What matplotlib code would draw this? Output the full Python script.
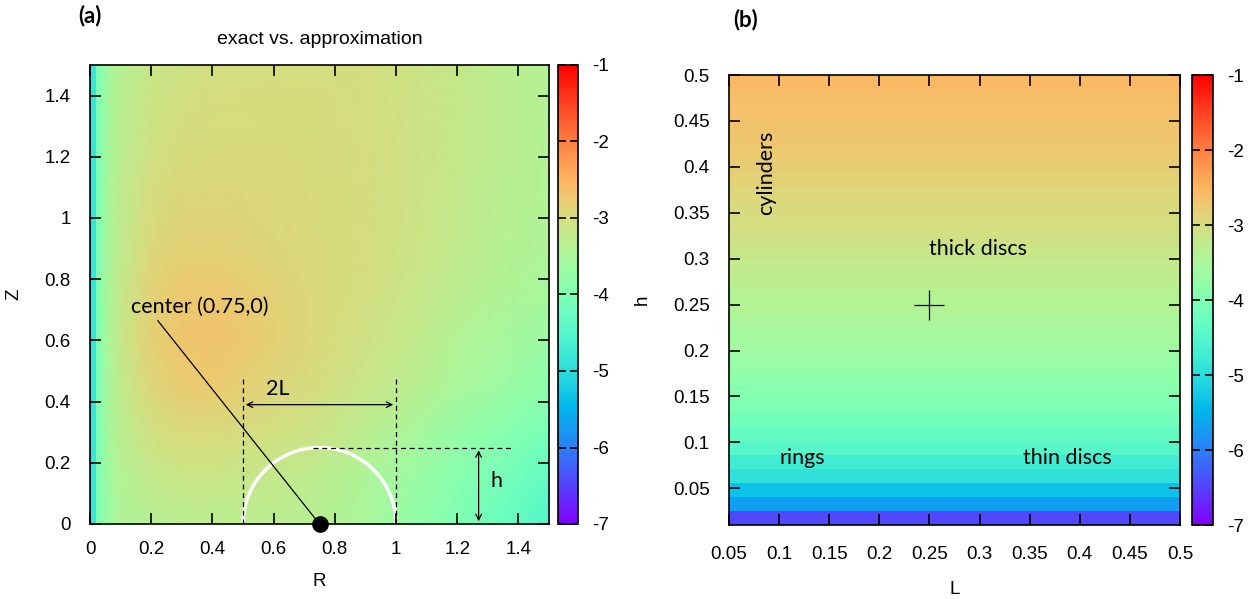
import numpy as np
import matplotlib
matplotlib.use('Agg')
import matplotlib.pyplot as plt
from matplotlib.ticker import FormatStrFormatter
from matplotlib.patches import Arc

plt.rcParams['font.family'] = ['Liberation Sans', 'DejaVu Sans']
plt.rcParams['axes.unicode_minus'] = False

# ---- panel (a): log10 deviation, exact vs. approximation, on an (R, Z) grid ----
# thin columns next to the axis R=0 (drawn flat)
strip_R_edges = [0, 0.02, 0.04]
strip_vals = [-4.85, -4.0]
# smooth part of the map
R_nodes = [0.04, 0.07, 0.1, 0.2, 0.3, 0.42, 0.6, 0.75, 0.9, 1.05, 1.2, 1.35, 1.5]
Z_nodes = [0, 0.15, 0.3, 0.45, 0.6, 0.75, 0.9, 1.2, 1.5]
dev_a = [
    [-3.85, -3.6, -3.45, -3.35, -3.3, -3.3, -3.3, -3.35, -3.5, -3.75, -4.0, -4.25, -4.55],
    [-3.8, -3.55, -3.4, -3.22, -3.15, -3.15, -3.2, -3.3, -3.45, -3.65, -3.9, -4.1, -4.35],
    [-3.75, -3.5, -3.3, -3.05, -2.95, -2.95, -3.05, -3.12, -3.3, -3.5, -3.72, -3.9, -4.1],
    [-3.7, -3.45, -3.25, -2.9, -2.78, -2.75, -2.9, -3.0, -3.15, -3.32, -3.5, -3.65, -3.85],
    [-3.7, -3.4, -3.2, -2.82, -2.7, -2.68, -2.82, -2.95, -3.07, -3.22, -3.4, -3.52, -3.68],
    [-3.7, -3.4, -3.2, -2.85, -2.72, -2.72, -2.84, -2.95, -3.03, -3.15, -3.3, -3.42, -3.55],
    [-3.7, -3.42, -3.25, -2.93, -2.83, -2.83, -2.9, -2.95, -3.0, -3.1, -3.25, -3.35, -3.45],
    [-3.72, -3.45, -3.3, -3.05, -2.97, -2.95, -2.95, -2.98, -3.0, -3.08, -3.2, -3.3, -3.38],
    [-3.75, -3.5, -3.35, -3.15, -3.08, -3.03, -3.0, -3.0, -3.03, -3.1, -3.2, -3.3, -3.38],
]

# ---- panel (b): deviation vs (L, h), bands in h ----
L_range = [0.05, 0.5]
h_range = [0.01, 0.5]
dev_b = [-6.45, -5.7, -5.35, -4.95, -4.75, -4.48, -4.33, -4.18, -4.03, -3.91,
         -3.82, -3.7, -3.62, -3.55, -3.48, -3.41, -3.35, -3.28, -3.21, -3.14,
         -3.07, -3.01, -2.95, -2.9, -2.85, -2.8, -2.75, -2.71, -2.67, -2.63,
         -2.6, -2.57]

cb_ticks = [-7, -6, -5, -4, -3, -2, -1]
vmin, vmax = -7, -1
cmap = 'rainbow'
anno_font = ['Lato', 'DejaVu Sans']
anno_size = 15.5

W, H = 1260, 599
fig = plt.figure(figsize=(W / 100, H / 100), dpi=100)
ax1 = fig.add_axes([90 / W, 1 - 524 / H, 459 / W, 459 / H])
cax1 = fig.add_axes([558 / W, 1 - 524 / H, 20 / W, 459 / H])
ax2 = fig.add_axes([729 / W, 1 - 525 / H, 451 / W, 450 / H])
cax2 = fig.add_axes([1192 / W, 1 - 525 / H, 21 / W, 450 / H])

# panel (a)
m1 = ax1.pcolormesh(R_nodes, Z_nodes, np.array(dev_a), shading='gouraud',
                    cmap=cmap, vmin=vmin, vmax=vmax)
ax1.pcolormesh(strip_R_edges, [0, 1.5], np.array([strip_vals]), shading='flat',
               cmap=cmap, vmin=vmin, vmax=vmax)
ax1.set_xlim(0, 1.5)
ax1.set_ylim(0, 1.5)
ax1.set_xticks(np.arange(0, 1.41, 0.2))
ax1.set_yticks(np.arange(0, 1.41, 0.2))
ax1.xaxis.set_major_formatter(FormatStrFormatter('%g'))
ax1.yaxis.set_major_formatter(FormatStrFormatter('%g'))
ax1.set_xlabel('R', fontsize=13.5, labelpad=11)
ax1.set_ylabel('Z', fontsize=13.5, labelpad=16)
ax1.set_title('exact vs. approximation', fontsize=14, pad=15)

ax1.add_patch(Arc((0.75, 0), 0.5, 0.5, theta1=0, theta2=180, color='white', lw=2.5))
ax1.plot([0.5, 0.5], [0, 0.48], 'k--', lw=0.9, dashes=(4, 3))
ax1.plot([1.0, 1.0], [0, 0.48], 'k--', lw=0.9, dashes=(4, 3))
ax1.plot([0.73, 1.375], [0.25, 0.25], 'k--', lw=0.9, dashes=(4, 3))
ax1.annotate('', xy=(0.5, 0.39), xytext=(1.0, 0.39),
             arrowprops=dict(arrowstyle='<->', lw=0.9, color='black'))
ax1.annotate('', xy=(1.27, 0.0), xytext=(1.27, 0.25),
             arrowprops=dict(arrowstyle='<->', lw=0.9, color='black'))
ax1.text(0.575, 0.44, '2L', fontsize=anno_size, family=anno_font, va='center')
ax1.text(1.31, 0.14, 'h', fontsize=anno_size, family=anno_font, va='center')
ax1.plot([0.222, 0.75], [0.664, 0.0], color='black', lw=0.9)
ax1.text(0.135, 0.71, 'center (0.75,0)', fontsize=anno_size, family=anno_font, va='center')
ax1.plot([0.75], [0.0], 'o', color='black', ms=11, clip_on=False, zorder=5)

# panel (b)
m2 = ax2.pcolormesh(L_range, np.linspace(h_range[0], h_range[1], len(dev_b) + 1),
                    np.array(dev_b)[:, None], shading='flat',
                    cmap=cmap, vmin=vmin, vmax=vmax)
ax2.set_xlim(0.05, 0.5)
ax2.set_ylim(0.01, 0.5)
ax2.set_xticks(np.arange(0.05, 0.501, 0.05))
ax2.set_yticks(np.arange(0.05, 0.501, 0.05))
ax2.xaxis.set_major_formatter(FormatStrFormatter('%g'))
ax2.yaxis.set_major_formatter(FormatStrFormatter('%g'))
ax2.set_xlabel('L', fontsize=13.5, labelpad=13)
ax2.set_ylabel('h', fontsize=13.5, labelpad=16)
ax2.plot([0.25], [0.25], marker='+', color='black', ms=22, mew=0.9)
ax2.text(0.087, 0.393, 'cylinders', rotation=90, fontsize=anno_size, family=anno_font,
         ha='center', va='center')
ax2.text(0.25, 0.31, 'thick discs', fontsize=anno_size, family=anno_font, va='center')
ax2.text(0.1, 0.083, 'rings', fontsize=anno_size, family=anno_font, va='center')
ax2.text(0.343, 0.083, 'thin discs', fontsize=anno_size, family=anno_font, va='center')

for ax, xpad in ((ax1, 12), (ax2, 15)):
    ax.tick_params(direction='in', top=True, right=True, length=8, width=1.2,
                   labelsize=13.5)
    ax.tick_params(axis='x', pad=xpad)
    ax.tick_params(axis='y', pad=14)
    for sp in ax.spines.values():
        sp.set_linewidth(1.2)
        sp.set_zorder(6)

for m, cax in ((m1, cax1), (m2, cax2)):
    cb = fig.colorbar(m, cax=cax, ticks=cb_ticks)
    cb.ax.yaxis.set_major_formatter(FormatStrFormatter('%d'))
    cb.ax.tick_params(direction='in', left=True, right=True, length=6, width=1.2,
                      labelsize=13.5, pad=10)
    cb.outline.set_linewidth(1.2)

fig.text(78 / W, 1 - 16 / H, '(a)', fontsize=16, fontweight='bold', family=anno_font,
         va='center')
fig.text(733 / W, 1 - 20 / H, '(b)', fontsize=16, fontweight='bold', family=anno_font,
         va='center')

fig.savefig('out.png', dpi=100)
